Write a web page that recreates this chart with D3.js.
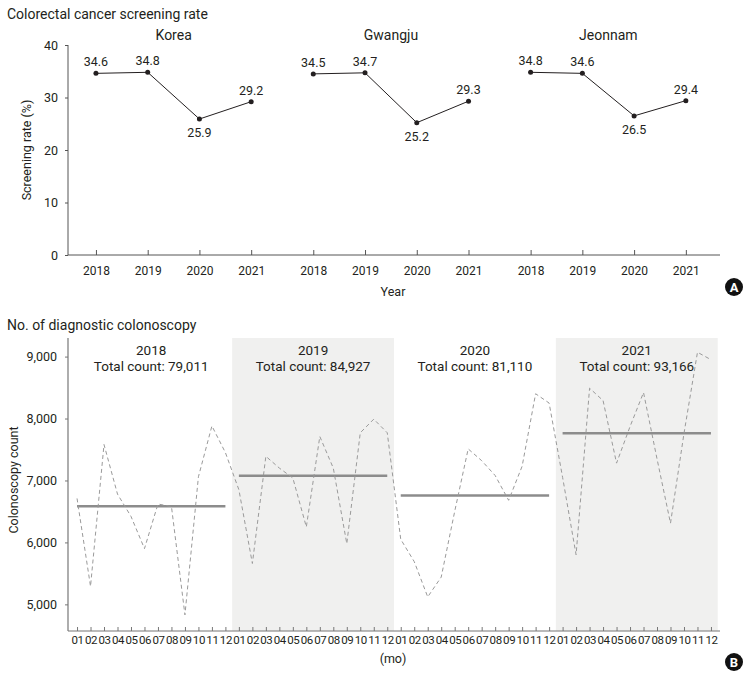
<!DOCTYPE html>
<html>
<head>
<meta charset="utf-8">
<script src="https://cdn.jsdelivr.net/npm/d3@7"></script>
<style>
body { margin: 0; background: #fff; }
svg { font-family: Roboto, "Open Sans", sans-serif; }
</style>
</head>
<body>
<svg id="chart" width="752" height="681"></svg>
<script>
// top panel data
var regions = ["Korea", "Gwangju", "Jeonnam"]
var years = ["2018", "2019", "2020", "2021"]
var korea = [34.6, 34.8, 25.9, 29.2]
var gwangju = [34.5, 34.7, 25.2, 29.3]
var jeonnam = [34.8, 34.6, 26.5, 29.4]
var rateTicks = [0, 10, 20, 30, 40]

// bottom panel data
var months = ["01","02","03","04","05","06","07","08","09","10","11","12"]
var count2018 = [6710, 5290, 7580, 6780, 6420, 5900, 6620, 6580, 4830, 7060, 7880, 7450]
var count2019 = [6850, 5660, 7390, 7200, 7040, 6250, 7710, 7200, 5980, 7770, 7990, 7770]
var count2020 = [6050, 5690, 5120, 5440, 6500, 7510, 7320, 7080, 6680, 7230, 8400, 8250]
var count2021 = [7050, 5800, 8490, 8290, 7280, 7870, 8420, 7350, 6310, 7760, 9070, 8950]
var totals = [79011, 84927, 81110, 93166]
var countTicks = [5000, 6000, 7000, 8000, 9000]

var svg = d3.select("#chart")
var dark = "#231f20"

// ---------- A: screening rate ----------
var rates = [korea, gwangju, jeonnam]

var outer = d3.scaleBand().domain(regions).range([68, 720])
var inner = d3.scalePoint().domain(years).range([0, outer.bandwidth()]).padding(0.6).align(0.45)
var yRate = d3.scaleLinear().domain([0, 40]).range([255, 45])

svg.append("text").attr("x", 7).attr("y", 19).attr("font-size", 14).attr("fill", dark)
	.text("Colorectal cancer screening rate")

var yA = svg.append("g").attr("transform", "translate(68,0)")
	.call(d3.axisLeft(yRate).tickValues(rateTicks).tickSize(3).tickPadding(7))
yA.select(".domain").remove()
yA.selectAll("line").attr("stroke", "#555")
yA.selectAll("text").attr("font-size", 12.5).attr("fill", dark).attr("font-family", "Roboto")

svg.append("line").attr("x1", 68).attr("x2", 68).attr("y1", 45).attr("y2", 255).attr("stroke", "#555")
svg.append("line").attr("x1", 68).attr("x2", 720).attr("y1", 255).attr("y2", 255).attr("stroke", "#555")

svg.append("text").attr("transform", "translate(31,150) rotate(-90)")
	.attr("text-anchor", "middle").attr("font-size", 12.5).attr("fill", dark)
	.text("Screening rate (%)")

regions.forEach(function(r, i) {
	var g = svg.append("g").attr("transform", "translate(" + outer(r) + ",0)")
	var vals = rates[i].map(function(v, j) { return {year: years[j], v: v} })

	var ax = g.append("g").attr("transform", "translate(0,255)")
		.call(d3.axisBottom(inner).tickSize(-5).tickPadding(11))
	ax.select(".domain").remove()
	ax.selectAll("line").attr("stroke", "#555")
	ax.selectAll("text").attr("font-size", 12).attr("fill", dark).attr("font-family", "Roboto")

	g.append("text").attr("x", outer.bandwidth() / 2 - 3).attr("y", 40)
		.attr("text-anchor", "middle").attr("font-size", 14).attr("fill", dark).text(r)

	var line = d3.line()
		.x(function(d) { return inner(d.year) })
		.y(function(d) { return yRate(d.v) })

	g.append("path").datum(vals).attr("d", line)
		.attr("fill", "none").attr("stroke", dark).attr("stroke-width", 1)

	g.selectAll("circle").data(vals).enter().append("circle")
		.attr("cx", function(d) { return inner(d.year) })
		.attr("cy", function(d) { return yRate(d.v) })
		.attr("r", 2.5).attr("fill", dark)

	g.selectAll(".lab").data(vals).enter().append("text")
		.attr("x", function(d) { return inner(d.year) })
		.attr("y", function(d, j) { return j == 2 ? yRate(d.v) + 18 : yRate(d.v) - 7 })
		.attr("text-anchor", "middle").attr("font-size", 12.5).attr("fill", dark)
		.text(function(d) { return d.v.toFixed(1) })
})

svg.append("text").attr("x", 393).attr("y", 296).attr("text-anchor", "middle")
	.attr("font-size", 12.5).attr("fill", dark).text("Year")

function badge(x, y, s) {
	svg.append("circle").attr("cx", x).attr("cy", y).attr("r", 9).attr("fill", "#111")
	svg.append("text").attr("x", x).attr("y", y + 4.5).attr("text-anchor", "middle")
		.attr("font-size", 13).attr("font-weight", "bold").attr("fill", "#fff").text(s)
}
badge(734, 287, "A")

// ---------- B: colonoscopy ----------
var counts = [count2018, count2019, count2020, count2021]
var pts = []
years.forEach(function(y, i) {
	months.forEach(function(m, j) { pts.push({key: y + "-" + m, m: m, v: counts[i][j]}) })
})

var xMo = d3.scalePoint().domain(pts.map(function(d) { return d.key })).range([68, 720]).padding(0.67)
var yCnt = d3.scaleLinear().domain([4570, 9300]).range([631, 338])
var step = xMo.step()

svg.append("text").attr("x", 7).attr("y", 330).attr("font-size", 14).attr("fill", dark)
	.text("No. of diagnostic colonoscopy")

// shaded years
years.forEach(function(y, i) {
	if (i % 2 == 1) {
		svg.append("rect")
			.attr("x", xMo(y + "-01") - step / 2)
			.attr("width", xMo(y + "-12") - xMo(y + "-01") + step)
			.attr("y", 338).attr("height", 631 - 338)
			.attr("fill", "#f0f0ef")
	}
})

var yB = svg.append("g").attr("transform", "translate(68,0)")
	.call(d3.axisLeft(yCnt).tickValues(countTicks).tickFormat(d3.format(",")).tickSize(3).tickPadding(8))
yB.select(".domain").remove()
yB.selectAll("line").attr("stroke", "#777")
yB.selectAll("text").attr("font-size", 12.5).attr("fill", dark).attr("font-family", "Roboto")

svg.append("line").attr("x1", 68).attr("x2", 68).attr("y1", 338).attr("y2", 631).attr("stroke", "#777").attr("stroke-width", 1.2)
svg.append("line").attr("x1", 68).attr("x2", 720).attr("y1", 631).attr("y2", 631).attr("stroke", "#777").attr("stroke-width", 1.2)

var xB = svg.append("g").attr("transform", "translate(0,631)")
	.call(d3.axisBottom(xMo).tickSize(-4).tickPadding(5)
		.tickFormat(function(k) { return k.slice(5) }))
xB.select(".domain").remove()
xB.selectAll("line").attr("stroke", "#777")
xB.selectAll("text").attr("font-size", 11.5).attr("fill", dark).attr("font-family", "Roboto")
	.attr("letter-spacing", -0.4)

svg.append("text").attr("transform", "translate(18,480) rotate(-90)")
	.attr("text-anchor", "middle").attr("font-size", 12.5).attr("fill", dark)
	.text("Colonoscopy count")

// yearly means
years.forEach(function(y, i) {
	var mean = totals[i] / 12
	svg.append("line")
		.attr("x1", xMo(y + "-01")).attr("x2", xMo(y + "-12"))
		.attr("y1", yCnt(mean)).attr("y2", yCnt(mean))
		.attr("stroke", "#8c8c8c").attr("stroke-width", 2.5)

	var cx = (xMo(y + "-01") + xMo(y + "-12")) / 2
	svg.append("text").attr("x", cx).attr("y", 355).attr("text-anchor", "middle")
		.attr("font-size", 13.5).attr("fill", dark).text(y)
	svg.append("text").attr("x", cx).attr("y", 371).attr("text-anchor", "middle")
		.attr("font-size", 13.5).attr("fill", dark).text("Total count: " + d3.format(",")(totals[i]))
})

var cline = d3.line()
	.x(function(d) { return xMo(d.key) })
	.y(function(d) { return yCnt(d.v) })

svg.append("path").datum(pts).attr("d", cline)
	.attr("fill", "none").attr("stroke", "#9a9a9a").attr("stroke-width", 1)
	.attr("stroke-dasharray", "4,3")

svg.append("text").attr("x", 393).attr("y", 663).attr("text-anchor", "middle")
	.attr("font-size", 12.5).attr("fill", dark).text("(mo)")

badge(734, 662, "B")
</script>
</body>
</html>
